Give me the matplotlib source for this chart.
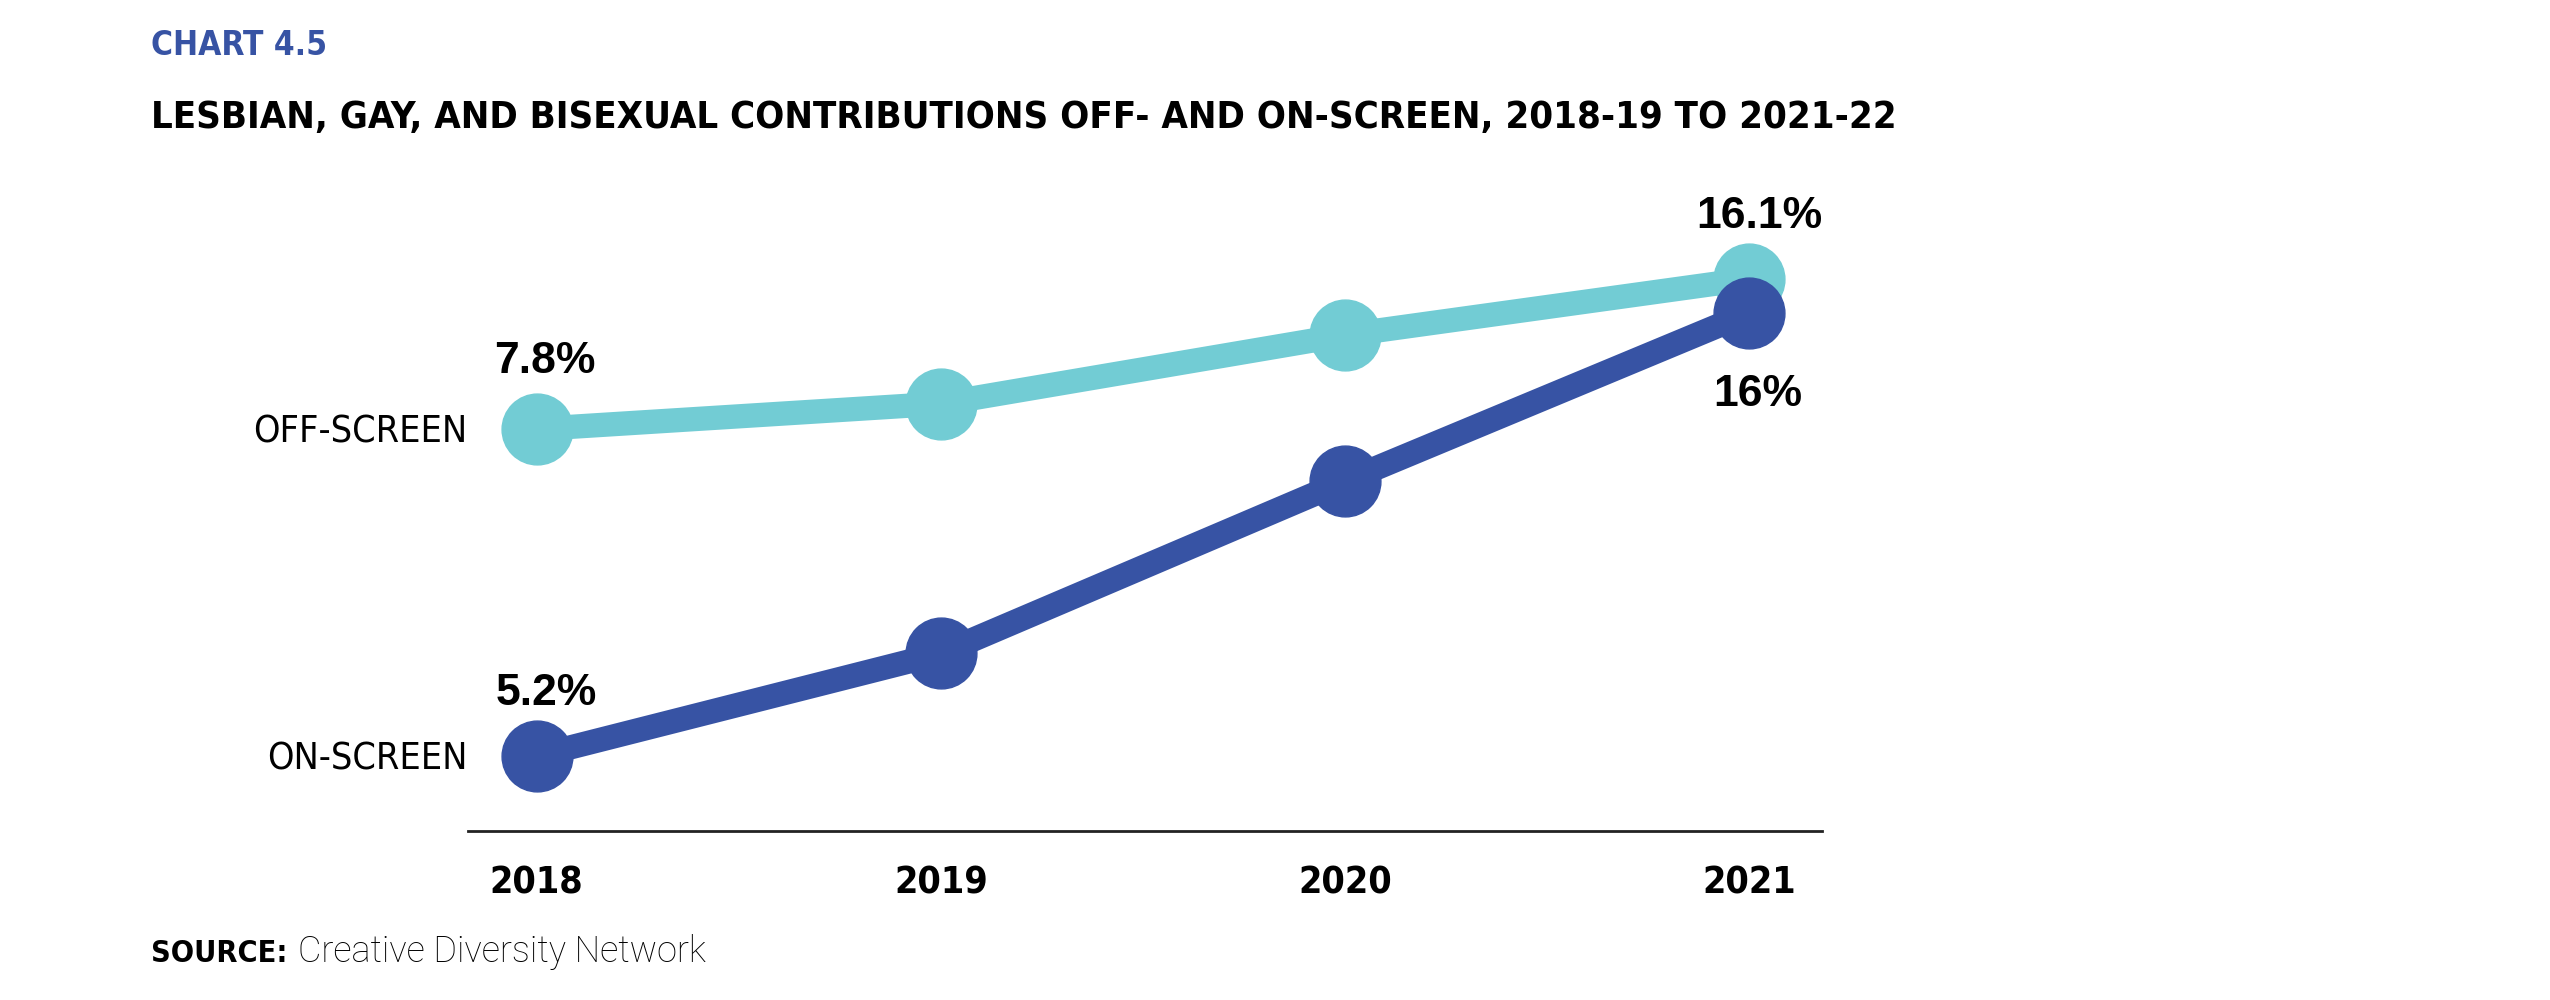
import matplotlib
matplotlib.use('Agg')
import matplotlib.pyplot as plt

# values (percent)
years = [2018, 2019, 2020, 2021]
off_screen = [7.8, 9.2, 13.0, 16.1]
on_screen = [5.2, 7.7, 11.9, 16.0]
off_name = 'OFF-SCREEN'
on_name = 'ON-SCREEN'

chart_no = 'CHART 4.5'
title = 'LESBIAN, GAY, AND BISEXUAL CONTRIBUTIONS OFF- AND ON-SCREEN, 2018-19 TO 2021-22'
source_head = 'SOURCE:'
source_body = 'Creative Diversity Network'

CYAN = '#72CCD4'
BLUE = '#3753A4'
NARROW = ['DejaVu Sans']
WIDE = ['Liberation Sans', 'DejaVu Sans']

W, H = 2550, 1000
fig = plt.figure(figsize=(W / 100, H / 100), dpi=100)

# axes box in pixels: left 468, right 1822, top 150, bottom 831
ax = fig.add_axes([468 / W, 1 - 831 / H, (1822 - 468) / W, (831 - 150) / H])
ax2 = ax.twinx()  # on-screen drawn on top of off-screen

ax.plot(years, off_screen, color=CYAN, lw=17.5, marker='o', ms=51,
        solid_joinstyle='round', zorder=3)
ax2.plot(years, on_screen, color=BLUE, lw=17.5, marker='o', ms=51,
         solid_joinstyle='round', zorder=3)

ax.set_xlim(2017.83, 2021.18)
# each series has its own vertical scale in the original design
ax.set_ylim(-14.45, 23.24)
ax2.set_ylim(3.37, 19.97)

for a in (ax, ax2):
    for s in a.spines.values():
        s.set_visible(False)
    a.set_yticks([])
ax.spines['bottom'].set_visible(True)
ax.spines['bottom'].set_linewidth(2)
ax.spines['bottom'].set_color('#222222')

ax.set_xticks(years)
ax.set_xticklabels([str(y) for y in years], family=NARROW, stretch='condensed',
                   weight='bold', fontsize=27, color='black')
ax.tick_params(axis='x', length=0, pad=25)

# series names on the left
for a, vals, name in ((ax, off_screen, off_name), (ax2, on_screen, on_name)):
    a.annotate(name, (years[0], vals[0]), xytext=(-50, -10), textcoords='offset points',
               ha='right', va='baseline', family=NARROW, stretch='condensed',
               weight='medium', fontsize=27, color='black')

# value labels at first and last points
val_kw = dict(textcoords='offset points', ha='center', family=WIDE, weight='bold',
              fontsize=32, color='black', va='baseline', zorder=5)
ax.annotate(f'{off_screen[0]:g}%', (years[0], off_screen[0]), xytext=(6, 40), **val_kw)
ax.annotate(f'{off_screen[-1]:g}%', (years[-1], off_screen[-1]), xytext=(7, 37), **val_kw)
ax2.annotate(f'{on_screen[0]:g}%', (years[0], on_screen[0]), xytext=(7, 37), **val_kw)
ax2.annotate(f'{on_screen[-1]:g}%', (years[-1], on_screen[-1]), xytext=(6, -67), **val_kw)

# header
fig.text(151 / W, 1 - 55 / H, chart_no, family=NARROW, stretch='condensed', weight='bold',
         fontsize=24, color=BLUE, ha='left', va='baseline')
t = fig.text(151 / W, 1 - 128 / H, title, family=NARROW, stretch='condensed', weight='bold',
             fontsize=39, color='black', ha='left', va='baseline')

fig.canvas.draw()
r = fig.canvas.get_renderer()
# squeeze title to the reference width
tw = t.get_window_extent(r).width
t.set_fontsize(39 * 1748 / tw)

# source line
s1 = fig.text(151 / W, 1 - 962 / H, source_head, family=NARROW, stretch='condensed',
              weight='bold', fontsize=22, color='black', ha='left', va='baseline')
fig.canvas.draw()
x_end = s1.get_window_extent(r).x1
fig.text((x_end + 10) / W, 1 - 962 / H, source_body, family=['Roboto', 'DejaVu Sans'],
         weight='light', fontsize=26, color='black', ha='left', va='baseline')

fig.savefig('out.png', dpi=100)
